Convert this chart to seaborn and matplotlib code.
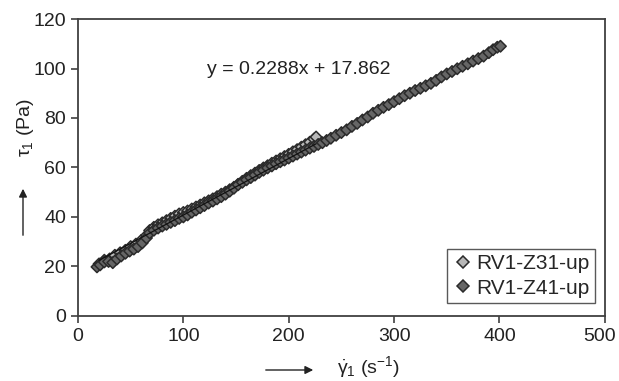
import numpy as np
import pandas as pd
import matplotlib
matplotlib.use("Agg")
import matplotlib.pyplot as plt
import matplotlib.transforms as mtransforms
import seaborn as sns

# ---- data ----
z31_x = [20, 25, 30, 35, 40, 45, 50, 55, 60, 65, 68, 72, 76, 80, 84, 88, 92, 96, 100,
         104, 108, 112, 116, 120, 124, 128, 132, 136, 140, 144, 148, 152, 156, 160, 164,
         168, 172, 176, 180, 184, 188, 192, 196, 200, 204, 208, 212, 216, 220, 224, 226]
z31_y = [21.0, 22.5, 23.0, 24.5, 25.5, 26.5, 28.0, 29.0, 30.5, 32.5, 34.5, 35.8, 36.8, 37.6,
         38.5, 39.4, 40.3, 41.2, 41.8, 42.4, 43.2, 44.0, 44.8, 45.7, 46.5, 47.3, 48.2, 49.2,
         50.0, 51.0, 52.0, 53.2, 54.4, 55.6, 56.7, 57.7, 58.8, 59.8, 60.7, 61.7, 62.6, 63.5,
         64.4, 65.3, 66.3, 67.2, 68.2, 69.2, 70.2, 71.5, 72.3]

z41_x = [18, 21, 25, 29, 33, 37, 41, 45, 49, 53, 57, 61, 65, 68, 72, 76, 80, 84, 88, 92,
         96, 100, 104, 108, 112, 116, 120, 124, 128, 132, 136, 140, 144, 148, 152, 156, 160,
         164, 168, 172, 176, 180, 184, 188, 192, 196, 200, 204, 208, 212, 216, 220, 224, 228,
         232, 236, 240, 245, 250, 255, 260, 265, 270, 275, 280, 285, 290, 295, 300, 305, 310,
         315, 320, 325, 330, 335, 340, 345, 350, 355, 360, 365, 370, 375, 380, 385, 390, 394,
         398, 401]
z41_y = [19.8, 20.6, 21.8, 22.0, 21.5, 23.0, 24.2, 25.3, 26.2, 27.0, 28.0, 29.5, 31.5, 33.5,
         34.6, 35.5, 36.3, 37.0, 37.8, 38.5, 39.4, 40.0, 40.8, 41.9, 42.8, 43.7, 44.6, 45.6,
         46.4, 47.3, 48.2, 49.2, 50.4, 51.6, 53.0, 54.0, 55.0, 55.9, 56.9, 58.0, 58.9, 59.8,
         60.6, 61.5, 62.3, 63.0, 63.8, 64.6, 65.4, 66.2, 67.0, 67.8, 68.5, 69.3, 70.0, 70.9,
         71.8, 73.0, 74.1, 75.2, 76.6, 77.8, 79.2, 80.4, 81.9, 83.1, 84.3, 85.4, 86.6, 87.8,
         89.0, 90.0, 91.1, 92.0, 93.0, 94.0, 95.2, 96.6, 97.8, 98.8, 99.9, 100.9, 101.9, 103.0,
         104.0, 105.0, 106.4, 107.6, 108.6, 109.0]

fit_slope = 0.2288
fit_intercept = 17.862
series_names = ["RV1-Z31-up", "RV1-Z41-up"]
x_ticks = [0, 100, 200, 300, 400, 500]
y_ticks = [0, 20, 40, 60, 80, 100, 120]

# ---- style ----
sns.set_style("ticks")
plt.rcParams['font.family'] = ['Liberation Sans', 'DejaVu Sans']
plt.rcParams['mathtext.fontset'] = 'custom'
plt.rcParams['mathtext.rm'] = 'Liberation Sans'
plt.rcParams['mathtext.it'] = 'Liberation Sans'
plt.rcParams['mathtext.bf'] = 'Liberation Sans:bold'

FS = 14

df = pd.concat([
    pd.DataFrame({"x": z31_x, "y": z31_y, "s": series_names[0]}),
    pd.DataFrame({"x": z41_x, "y": z41_y, "s": series_names[1]}),
])

fig = plt.figure(figsize=(6.19, 3.81), dpi=100)
ax = fig.add_axes([0.126, 0.171, 0.851, 0.779])

edge = "#2a2a2a"
sns.scatterplot(data=df, x="x", y="y", hue="s", hue_order=series_names,
                palette={series_names[0]: "#b8b8b8", series_names[1]: "#666666"},
                marker="D", s=34, edgecolor=edge, linewidth=1.1, ax=ax, zorder=3)

fx = np.array([min(z31_x), max(z31_x)], dtype=float)
fdf = pd.DataFrame({"x": fx, "y": fit_slope * fx + fit_intercept})
sns.lineplot(data=fdf, x="x", y="y", color="#111111", linewidth=0.9, ax=ax, zorder=4,
             legend=False)

ax.set_xlim(0, 500)
ax.set_ylim(0, 120)
ax.set_xticks(x_ticks)
ax.set_yticks(y_ticks)
ax.tick_params(labelsize=FS, length=5, width=1.2, color="#404040", labelcolor="#222222")
for sp in ax.spines.values():
    sp.set_visible(True)
    sp.set_color("#404040")
    sp.set_linewidth(1.3)
ax.set_xlabel("")
ax.set_ylabel("")

# nudge the last x tick label inward so it fits like in the reference
fig.canvas.draw()
last_lbl = ax.get_xticklabels()[-1]
last_lbl.set_transform(last_lbl.get_transform() +
                       mtransforms.ScaledTranslation(-5 / 100, 0, fig.dpi_scale_trans))

ax.text(210, 99.5, f"y = {fit_slope}x + {fit_intercept}", fontsize=FS,
        ha="center", va="center", color="#222222")

leg = ax.legend(loc="lower right", fontsize=15, frameon=True, fancybox=False,
                borderpad=0.25, labelspacing=0.25, handletextpad=0.15, handlelength=1.0,
                borderaxespad=0.0, bbox_to_anchor=(0.981, 0.044))
leg.get_frame().set_edgecolor("#303030")
leg.get_frame().set_linewidth(1.0)

# axis titles with arrows
fig.text(25 / 619, 1 - 128 / 381, r"$\tau_1$ (Pa)", rotation=90, fontsize=FS,
         ha="center", va="center", color="#222222")
fig.add_artist(matplotlib.patches.FancyArrowPatch(
    (23 / 619, 1 - 238 / 381), (23 / 619, 1 - 186 / 381), transform=fig.transFigure,
    arrowstyle="-|>", mutation_scale=12, color="#222222", linewidth=1.0))
fig.text(369 / 619, 1 - 367 / 381, r"$\dot{\gamma}_1$ (s$^{-1}$)", fontsize=FS,
         ha="center", va="center", color="#222222")
fig.add_artist(matplotlib.patches.FancyArrowPatch(
    (263 / 619, 1 - 370 / 381), (316 / 619, 1 - 370 / 381), transform=fig.transFigure,
    arrowstyle="-|>", mutation_scale=12, color="#222222", linewidth=1.0))

fig.savefig("out.png", dpi=100)
